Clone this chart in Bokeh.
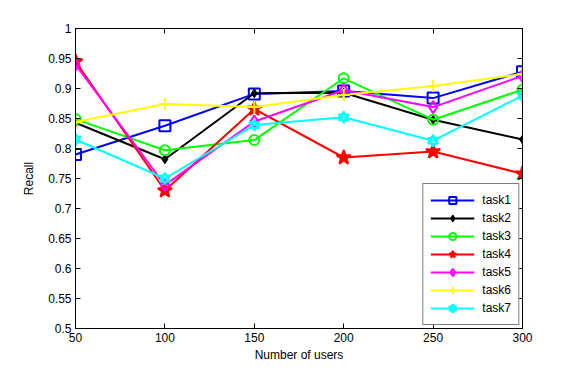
from bokeh.plotting import figure
from bokeh.models import LinearAxis, FixedTicker, PrintfTickFormatter, Range1d, CustomJSTickFormatter
from bokeh.embed import file_html
from bokeh.resources import INLINE

users = [50, 100, 150, 200, 250, 300]
task1 = [0.790, 0.838, 0.891, 0.896, 0.884, 0.928]
task2 = [0.843, 0.782, 0.892, 0.893, 0.848, 0.815]
task3 = [0.849, 0.797, 0.814, 0.917, 0.848, 0.898]
task4 = [0.945, 0.730, 0.866, 0.785, 0.795, 0.758]
task5 = [0.940, 0.739, 0.845, 0.897, 0.869, 0.921]
task6 = [0.844, 0.874, 0.869, 0.889, 0.904, 0.924]
task7 = [0.815, 0.750, 0.839, 0.852, 0.813, 0.888]
x_ticks = [50, 100, 150, 200, 250, 300]
y_ticks = [0.5, 0.55, 0.6, 0.65, 0.7, 0.75, 0.8, 0.85, 0.9, 0.95, 1.0]

FONT = "Liberation Sans"

p = figure(width=577, height=370, output_backend="svg", toolbar_location=None,
           x_range=Range1d(50, 300), y_range=Range1d(0.5, 1.0),
           min_border_left=75, min_border_right=55, min_border_top=28, min_border_bottom=42)
p.xgrid.visible = False
p.ygrid.visible = False
p.outline_line_color = "black"
p.outline_line_width = 1
p.background_fill_color = "white"
p.border_fill_color = "white"

def style_axis(ax):
    ax.major_tick_in = 5
    ax.major_tick_out = 0
    ax.minor_tick_in = 0
    ax.minor_tick_out = 0
    ax.axis_line_color = "black"
    ax.major_tick_line_color = "black"
    ax.major_label_text_font = FONT
    ax.major_label_text_font_size = "12px"
    ax.major_label_text_color = "black"
    ax.major_label_standoff = 4
    ax.axis_label_text_font = FONT
    ax.axis_label_text_font_size = "12px"
    ax.axis_label_text_font_style = "normal"
    ax.axis_label_text_color = "black"

p.xaxis.ticker = FixedTicker(ticks=x_ticks)
p.yaxis.ticker = FixedTicker(ticks=y_ticks)
p.yaxis.formatter = PrintfTickFormatter(format="%g")
p.xaxis.axis_label = "Number of users"
p.yaxis.axis_label = "Recall"
style_axis(p.xaxis[0])
style_axis(p.yaxis[0])
p.xaxis.axis_label_standoff = 3
p.yaxis.axis_label_standoff = 9

blank = CustomJSTickFormatter(code="return ''")
top = LinearAxis(ticker=FixedTicker(ticks=x_ticks), formatter=blank)
right = LinearAxis(ticker=FixedTicker(ticks=y_ticks), formatter=blank)
style_axis(top)
style_axis(right)
p.add_layout(top, "above")
p.add_layout(right, "right")

lw = 2
p.line(users, task1, color="#0000ff", line_width=lw, legend_label="task1")
p.scatter(users, task1, marker="square", size=11, line_color="#0000ff", fill_color=None, line_width=2, legend_label="task1")

p.line(users, task2, color="black", line_width=lw, legend_label="task2")
p.scatter(users, task2, marker="diamond", size=9, line_color="black", fill_color="black", line_width=1, legend_label="task2")

p.line(users, task3, color="#00ff00", line_width=lw, legend_label="task3")
p.scatter(users, task3, marker="circle", size=10, line_color="#00ff00", fill_color=None, line_width=2, legend_label="task3")

p.line(users, task4, color="#ff0000", line_width=lw, legend_label="task4")
p.scatter(users, task4, marker="star", size=15, line_color="#ff0000", fill_color="#ff0000", line_width=2, legend_label="task4")

p.line(users, task5, color="#ff00ff", line_width=lw, legend_label="task5")
p.scatter(users, task5, marker="diamond", size=12, line_color="#ff00ff", fill_color=None, line_width=2, legend_label="task5")

p.line(users, task6, color="#ffff00", line_width=lw, legend_label="task6")
p.scatter(users, task6, marker="cross", size=12, line_color="#ffff00", line_width=2, legend_label="task6")

p.line(users, task7, color="#00ffff", line_width=lw, legend_label="task7")
p.scatter(users, task7, marker="triangle", size=10, line_color="#00ffff", fill_color=None, line_width=2, legend_label="task7")
p.scatter(users, task7, marker="inverted_triangle", size=10, line_color="#00ffff", fill_color=None, line_width=2, legend_label="task7")

leg = p.legend[0]
leg.location = "bottom_right"
leg.margin = 3
leg.padding = 7
leg.spacing = 0
leg.glyph_width = 44
leg.glyph_height = 18
leg.label_height = 18
leg.label_standoff = 8
leg.label_text_font = FONT
leg.label_text_font_size = "12px"
leg.label_text_color = "black"
leg.border_line_color = "black"
leg.border_line_width = 1
leg.background_fill_color = "white"
leg.background_fill_alpha = 1

open("out.html", "w").write(file_html(p, INLINE))
